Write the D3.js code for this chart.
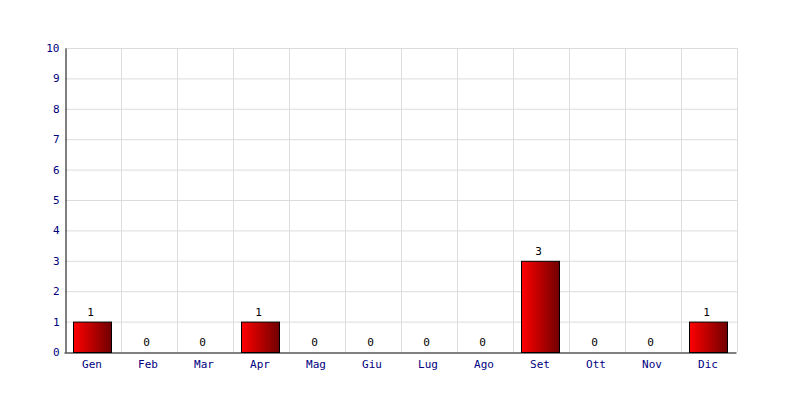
<!DOCTYPE html>
<html><head><meta charset="utf-8">
<script src="https://cdn.jsdelivr.net/npm/d3@7"></script>
<style>body{margin:0;background:#fff}svg{display:block}</style>
</head><body>
<svg id="c" width="800" height="400"></svg>
<script>
const categories = ["Gen","Feb","Mar","Apr","Mag","Giu","Lug","Ago","Set","Ott","Nov","Dic"];
const values = [1,0,0,1,0,0,0,0,3,0,0,1];
const yTicks = [0,1,2,3,4,5,6,7,8,9,10];

const svg = d3.select("#c");
const L = 65, R = 737, T = 48, B = 352;
const x = d3.scaleBand().domain(categories).range([L, R]).paddingInner(0).paddingOuter(0);
const y = d3.scaleLinear().domain([0, 10]).range([B, T]);

const defs = svg.append("defs");
const g = defs.append("linearGradient").attr("id","grad").attr("x1","0").attr("x2","1").attr("y1","0").attr("y2","0");
g.append("stop").attr("offset","0").attr("stop-color","#ff0000");
g.append("stop").attr("offset","1").attr("stop-color","#700000");

const font = "'DejaVu Sans Mono', monospace";
const data = values.map((v,i)=>({c:categories[i],v}));

// grid
svg.append("g").selectAll("line").data(yTicks.filter(d=>d>0)).join("line")
  .attr("x1", L).attr("x2", R).attr("y1", d=>y(d)+0.5).attr("y2", d=>y(d)+0.5)
  .attr("stroke", "#dcdcdc").attr("stroke-width", 1);
svg.append("g").selectAll("line").data(categories).join("line")
  .attr("x1", d=>x(d)+x.bandwidth()+0.5).attr("x2", d=>x(d)+x.bandwidth()+0.5)
  .attr("y1", T).attr("y2", B)
  .attr("stroke", "#dcdcdc").attr("stroke-width", 1);

// bars
const bw = 38;
svg.append("g").selectAll("rect").data(data.filter(d=>d.v>0)).join("rect")
  .attr("x", d=>x(d.c) + (x.bandwidth()-bw)/2 - 0.5)
  .attr("y", d=>y(d.v)+0.5)
  .attr("width", bw)
  .attr("height", d=>y(0)-y(d.v))
  .attr("fill","url(#grad)").attr("stroke","#000").attr("stroke-width",1);

// value labels
svg.append("g").selectAll("text").data(data).join("text")
  .attr("x", d=>x(d.c)+x.bandwidth()/2-2.5)
  .attr("y", d=>y(d.v)-6)
  .attr("text-anchor","middle")
  .attr("font-family", font).attr("font-size", 11).attr("fill","#000")
  .text(d=>d.v);

// axes
const yAxis = d3.axisLeft(y).tickValues(yTicks).tickSize(0).tickSizeOuter(0).tickPadding(6);
const ya = svg.append("g").attr("transform",`translate(${L+0.5},0)`).call(yAxis);
ya.select(".domain").attr("stroke","#000");
ya.selectAll("text").attr("font-family",font).attr("font-size",11).attr("fill","#000080");

const xAxis = d3.axisBottom(x).tickSize(0).tickSizeOuter(0).tickPadding(8);
const xa = svg.append("g").attr("transform",`translate(-1,${B+0.5})`).call(xAxis);
xa.select(".domain").attr("stroke","#000");
xa.selectAll("text").attr("font-family",font).attr("font-size",11).attr("fill","#000080");
</script>
</body></html>
